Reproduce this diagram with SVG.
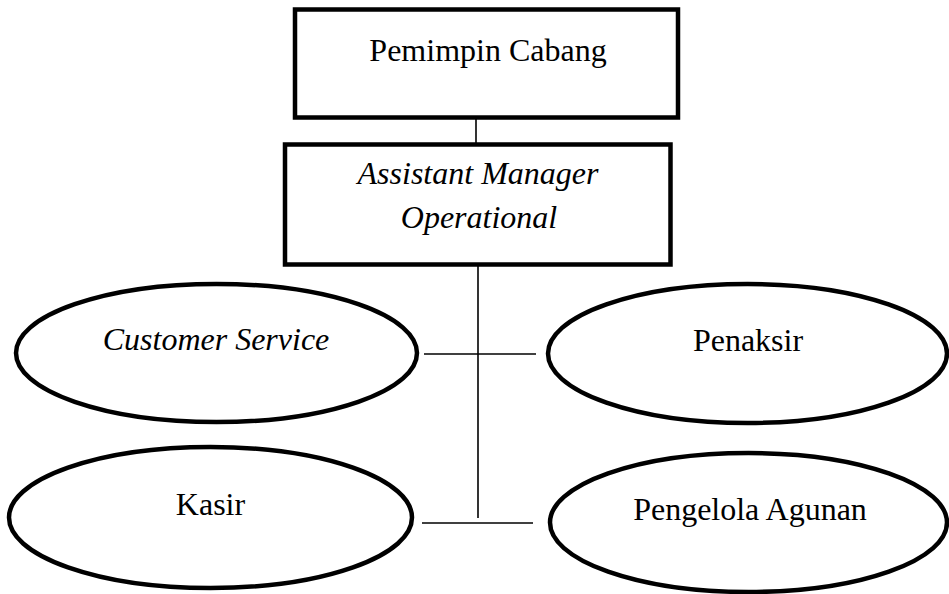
<svg xmlns="http://www.w3.org/2000/svg" width="949" height="594" viewBox="0 0 949 594">
<style>
.box{fill:#fff;stroke:#000;stroke-width:4.5}
.ell{fill:#fff;stroke:#000;stroke-width:4.5}
.con{stroke:#000;stroke-width:1.6;fill:none}
.t{font-family:'Liberation Serif','DejaVu Serif',serif;font-size:32px;fill:#000;text-anchor:middle}
.it{font-style:italic}
</style>
<rect width="949" height="594" fill="#fff"/>
<g id="connectors">
<line class="con" x1="476" y1="118" x2="476" y2="144"/>
<line class="con" x1="478" y1="266" x2="478" y2="518"/>
<line class="con" x1="424" y1="354" x2="536" y2="354"/>
<line class="con" x1="422" y1="523" x2="533" y2="523"/>
</g>
<g id="pemimpin">
<rect class="box" x="295" y="9.5" width="383" height="108"/>
<text class="t" font-family="Liberation Serif, serif" x="488" y="61">Pemimpin Cabang</text>
</g>
<g id="asmen">
<rect class="box" x="285" y="144.5" width="385.5" height="120"/>
<text class="t it" font-family="Liberation Serif, serif" x="478" y="184">Assistant Manager</text>
<text class="t it" font-family="Liberation Serif, serif" x="479" y="228">Operational</text>
</g>
<g id="cs">
<ellipse class="ell" cx="216.5" cy="353" rx="200.5" ry="69"/>
<text class="t it" font-family="Liberation Serif, serif" x="216" y="350">Customer Service</text>
</g>
<g id="penaksir">
<ellipse class="ell" cx="747.5" cy="353.5" rx="199.5" ry="69.5"/>
<text class="t" font-family="Liberation Serif, serif" x="748" y="351">Penaksir</text>
</g>
<g id="kasir">
<ellipse class="ell" cx="210.5" cy="517.5" rx="201.5" ry="70.5"/>
<text class="t" font-family="Liberation Serif, serif" x="210.5" y="515">Kasir</text>
</g>
<g id="pengelola">
<ellipse class="ell" cx="748.5" cy="522.5" rx="198.5" ry="69.5"/>
<text class="t" font-family="Liberation Serif, serif" x="750" y="520">Pengelola Agunan</text>
</g>
</svg>
